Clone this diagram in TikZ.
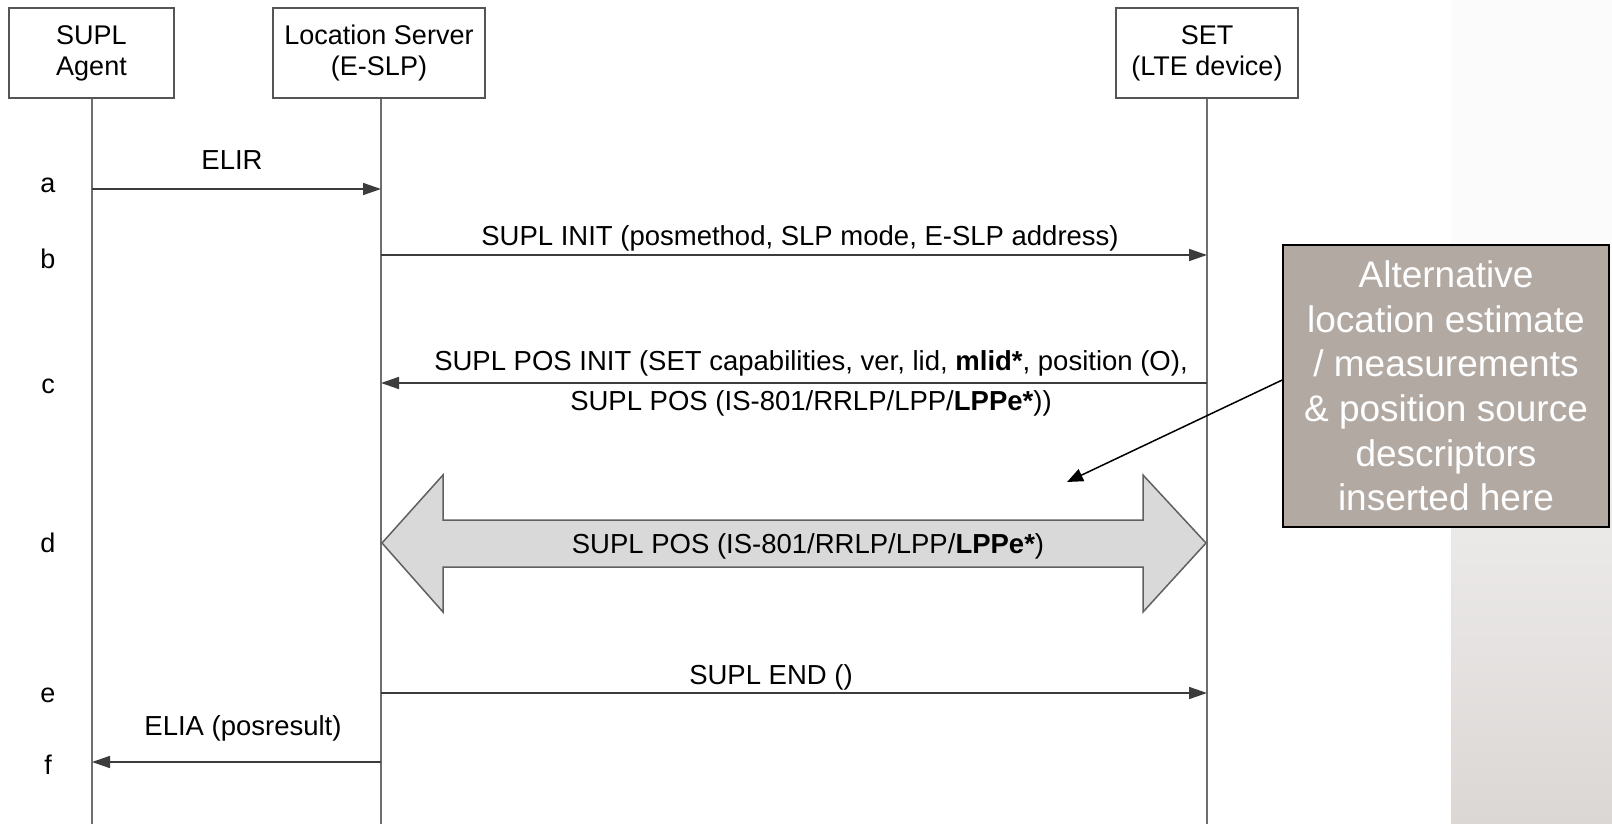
\documentclass[tikz,border=0pt]{standalone}
\usepackage{fontspec}
\setmainfont{Liberation Sans}
\usetikzlibrary{arrows.meta}
\definecolor{lifegray}{RGB}{110,110,110}
\definecolor{msggray}{RGB}{60,60,60}
\definecolor{boxgray}{RGB}{85,85,85}
\definecolor{posfill}{RGB}{217,217,217}
\definecolor{posedge}{RGB}{96,96,96}
\definecolor{notefill}{RGB}{178,169,163}
\definecolor{bandtop}{RGB}{251,251,251}
\definecolor{bandbot}{RGB}{219,215,213}
\tikzset{
  actor/.style={draw=boxgray, line width=1.5pt, fill=white, minimum height=90pt,
    align=center, inner sep=0pt, font=\fontsize{27}{31}\selectfont},
  lifeline/.style={draw=lifegray, line width=2pt},
  msg/.style={draw=msggray, line width=1.6pt, -{Triangle[length=18pt,width=12pt]}},
  msglabel/.style={anchor=base, inner sep=0pt, font=\fontsize{27.5}{40}\selectfont},
  steplabel/.style={anchor=base, inner sep=0pt, font=\fontsize{27}{31}\selectfont},
  notebox/.style={draw=black, line width=1.5pt, fill=notefill, text=white,
    align=center, inner sep=0pt, minimum width=326pt, minimum height=282pt,
    font=\fontsize{37}{44.7}\selectfont},
  pointer/.style={draw=black, line width=1.5pt, -{Triangle[length=16pt,width=13pt]}}
}
\begin{document}
\begin{tikzpicture}[x=1pt,y=-1pt]
  \useasboundingbox (0,0) rectangle (1612,824);
  % page background with the shaded band at the right edge
  \fill[white] (0,0) rectangle (1612,824);
  \fill[bandtop] (1451,0) rectangle (1612,250);
  \shade[top color=bandtop, bottom color=bandbot]
    (1451pt,-250pt) rectangle (1612pt,-824pt);

  % participants
  \node[actor, minimum width=165pt] (agent) at (91.5,53) {SUPL\\Agent};
  \node[actor, minimum width=212pt] (server) at (379,53) {Location Server\\(E-SLP)};
  \node[actor, minimum width=182pt] (set) at (1207,53) {SET\\(LTE device)};

  % lifeline ends
  \coordinate (agentEnd) at (92,824);
  \coordinate (serverEnd) at (381,824);
  \coordinate (setEnd) at (1207,824);
  \draw[lifeline] (agent.south -| agentEnd) -- (agentEnd);
  \draw[lifeline] (server.south -| serverEnd) -- (serverEnd);
  \draw[lifeline] (set.south -| setEnd) -- (setEnd);

  % message end points on the lifelines
  \coordinate (aA) at (92,189);   \coordinate (aS) at (381,189);
  \coordinate (bS) at (381,255);  \coordinate (bT) at (1207,255);
  \coordinate (cS) at (381,383);  \coordinate (cT) at (1207,383);
  \coordinate (eS) at (381,693);  \coordinate (eT) at (1207,693);
  \coordinate (fA) at (92,762);   \coordinate (fS) at (381,762);

  % step letters
  \node[steplabel] (la) at (48,193) {a};
  \node[steplabel] (lb) at (48,268) {b};
  \node[steplabel] (lc) at (48,393) {c};
  \node[steplabel] (ld) at (48,552) {d};
  \node[steplabel] (le) at (48,702) {e};
  \node[steplabel] (lf) at (48,774) {f};

  % a: ELIR
  \draw[msg] (aA) -- (aS);
  \node[msglabel] (elir) at (232,170) {ELIR};

  % b: SUPL INIT
  \draw[msg] (bS) -- (bT);
  \node[msglabel] (init) at (800,245) {SUPL INIT (posmethod, SLP mode, E-SLP address)};

  % c: SUPL POS INIT
  \draw[msg] (cT) -- (cS);
  \node[msglabel] (posinit1) at (811,370) {SUPL POS INIT (SET capabilities, ver, lid, \textbf{mlid*}, position (O),};
  \node[msglabel] (posinit2) at (811,410) {SUPL POS (IS-801/RRLP/LPP/\textbf{LPPe*}))};

  % d: SUPL POS exchange as a double block arrow
  \draw[fill=posfill, draw=posedge, line width=1.5pt, line join=miter]
    (382,543) -- (443,475) -- (443,520) -- (1143,520) -- (1143,475)
    -- (1206,543) -- (1143,612) -- (1143,567) -- (443,567) -- (443,612) -- cycle;
  \node[msglabel] (pos) at (808,553) {SUPL POS (IS-801/RRLP/LPP/\textbf{LPPe*})};

  % e: SUPL END
  \draw[msg] (eS) -- (eT);
  \node[msglabel] (end) at (771,684) {SUPL END ()};

  % f: ELIA
  \draw[msg] (fS) -- (fA);
  \node[msglabel] (elia) at (243,735) {ELIA (posresult)};

  % annotation
  \node[notebox] (note) at (1446,386) {Alternative\\location estimate\\/ measurements\\\& position source\\descriptors\\inserted here};
  \coordinate (noteTip) at (1067,482);
  \draw[pointer] (note.west |- 0,380) -- (noteTip);
\end{tikzpicture}
\end{document}
